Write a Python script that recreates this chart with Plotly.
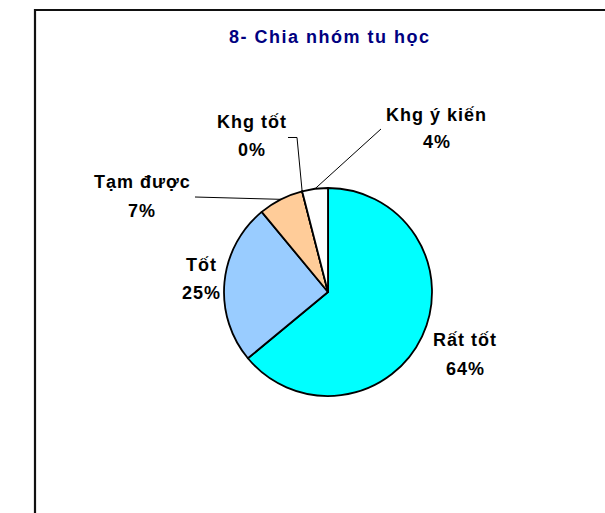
import math
import plotly.graph_objects as go

# ---- data ----
categories = ["Rất tốt", "Tốt", "Tạm được", "Khg tốt", "Khg ý kiến"]
values = [64, 25, 7, 0, 4]
colors = ["#00FFFF", "#99CCFF", "#FFCC99", "#FFFFFF", "#FFFFFF"]
title_text = "8- Chia nhóm tu học"

# ---- layout geometry (pixels) ----
W, H = 605, 513
CX, CY, R = 328, 292, 104
# label centres (x, name line y, percent line y) in pixels
label_pos = {
    "Rất tốt": (465, 340, 369),
    "Tốt": (201, 265, 293),
    "Tạm được": (142, 182, 211),
    "Khg tốt": (252, 122, 150),
    "Khg ý kiến": (437, 115, 142),
}
# leader line start points (pixels), elbow points
leader_start = {
    "Tạm được": [(195, 197)],
    "Khg tốt": [(288, 137.5), (297, 137.5)],
    "Khg ý kiến": [(381, 129)],
}

def px(x):
    return x / W

def py(y):
    return 1 - y / H

FONT = "Liberation Sans, Arial, sans-serif"

def spaced(t, s):
    return f'<span style="letter-spacing:{s}px">{t}</span>'

fig = go.Figure(go.Pie(
    labels=categories,
    values=values,
    marker=dict(colors=colors, line=dict(color="#000000", width=1.8)),
    sort=False,
    direction="clockwise",
    rotation=0,
    textinfo="none",
    hoverinfo="label+percent",
    showlegend=False,
    domain=dict(x=[px(CX - R), px(CX + R)], y=[py(CY + R), py(CY - R)]),
))

total = sum(values)
annotations = [dict(
    text=spaced(title_text, 1.5), x=px(330), y=py(37.5), xref="paper", yref="paper",
    showarrow=False, xanchor="center", yanchor="middle",
    font=dict(family=FONT, size=18, color="#000080", weight="bold"),
)]
shapes = []
cum = 0
for cat, v in zip(categories, values):
    start, end = cum, cum + v
    cum = end
    pct = round(v / total * 100)
    lx, ly1, ly2 = label_pos[cat]
    for txt, yy in ((cat, ly1), (f"{pct}%", ly2)):
        annotations.append(dict(
            text=spaced(txt, 1.0), x=px(lx), y=py(yy), xref="paper", yref="paper",
            showarrow=False, xanchor="center", yanchor="middle",
            font=dict(family=FONT, size=18, color="#000000", weight="bold"),
        ))
    if cat in leader_start:
        mid = (start + end) / 2 / total * 2 * math.pi
        ex = CX + R * math.sin(mid)
        ey = CY - R * math.cos(mid)
        pts = leader_start[cat] + [(ex, ey)]
        path = "M " + " L ".join(f"{px(a):.5f},{py(b):.5f}" for a, b in pts)
        shapes.append(dict(type="path", path=path, xref="paper", yref="paper",
                           line=dict(color="#000000", width=1)))

# outer frame
shapes.append(dict(type="rect", xref="paper", yref="paper",
                   x0=px(35), x1=px(W + 20), y0=py(H + 20), y1=py(10),
                   line=dict(color="#111111", width=2.2), fillcolor="rgba(0,0,0,0)"))

fig.update_layout(
    width=W, height=H,
    margin=dict(l=0, r=0, t=0, b=0),
    paper_bgcolor="#FFFFFF",
    plot_bgcolor="#FFFFFF",
    annotations=annotations,
    shapes=shapes,
)

fig.write_html("out.html", config={"displayModeBar": False},
               post_script="document.body.style.margin='0';document.body.style.overflow='hidden';")
